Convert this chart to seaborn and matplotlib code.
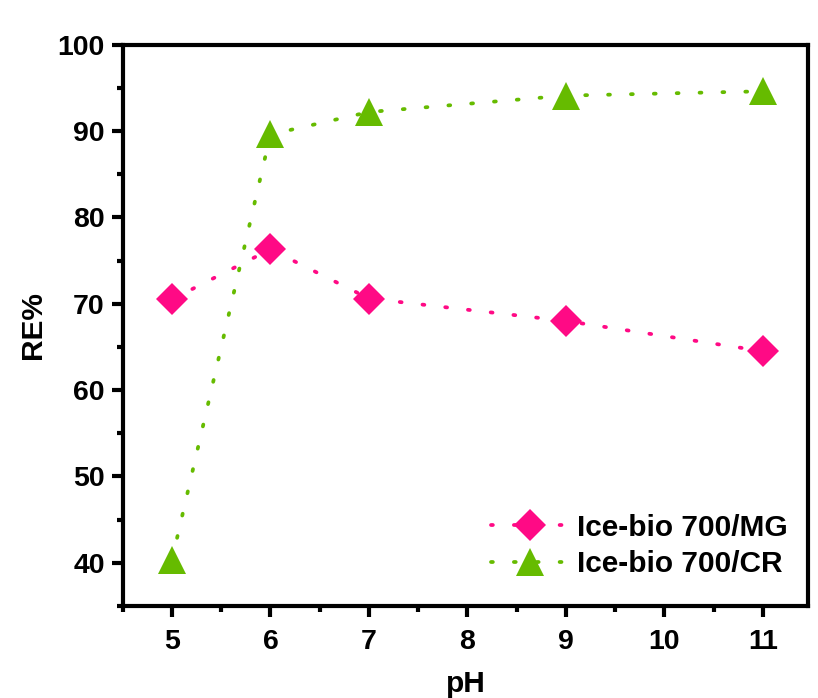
import matplotlib
matplotlib.use("Agg")
import matplotlib.pyplot as plt
import seaborn as sns
from matplotlib.ticker import MultipleLocator

ph_mg = [5, 6, 7, 9, 11]
re_mg = [70.5, 76.3, 70.6, 68.0, 64.5]
ph_cr = [5, 6, 7, 9, 11]
re_cr = [40.3, 89.6, 92.2, 94.1, 94.6]
label_mg = "Ice-bio 700/MG"
label_cr = "Ice-bio 700/CR"
x_ticks = [5, 6, 7, 8, 9, 10, 11]
y_ticks = [40, 50, 60, 70, 80, 90, 100]

sns.set_theme(style="ticks")
plt.rcParams['font.family'] = ['Liberation Sans', 'DejaVu Sans']
plt.rcParams['font.weight'] = 'bold'
for k in ['text.color', 'axes.labelcolor', 'xtick.color', 'ytick.color', 'axes.edgecolor']:
    plt.rcParams[k] = 'black'

fig = plt.figure(figsize=(8.18, 6.98), dpi=100)
ax = fig.add_axes([0.150, 0.132, 0.838, 0.804])

pink = "#FF0A85"
green = "#66BB00"
dots = (0, (0.5, 5.6))

sns.lineplot(x=ph_mg, y=re_mg, ax=ax, color=pink, linestyle=dots, linewidth=2.7,
             dash_capstyle='round', marker='D', markersize=16, markeredgewidth=0,
             label=label_mg)
sns.lineplot(x=ph_cr, y=re_cr, ax=ax, color=green, linestyle=dots, linewidth=2.7,
             dash_capstyle='round', marker='^', markersize=20, markeredgewidth=0,
             label=label_cr)

ax.set_xlim(4.5, 11.46)
ax.set_ylim(35, 100)
ax.set_xticks(x_ticks)
ax.set_yticks(y_ticks)
ax.xaxis.set_minor_locator(MultipleLocator(0.5))
ax.yaxis.set_minor_locator(MultipleLocator(5))
ax.tick_params(which='major', direction='out', length=8, width=3, labelsize=20.5)
ax.tick_params(axis='x', which='major', pad=9)
ax.tick_params(axis='y', which='major', pad=5)
ax.tick_params(which='minor', direction='out', length=4.5, width=3)
for lab in ax.get_xticklabels() + ax.get_yticklabels():
    lab.set_fontweight('bold')
for s in ax.spines.values():
    s.set_visible(True)
    s.set_linewidth(3)
    s.set_color('black')

ax.set_xlabel("pH", fontsize=21.5, fontweight='bold')
ax.set_ylabel("RE%", fontsize=21.5, fontweight='bold')
ax.xaxis.set_label_coords(0.5, -0.115)
ax.yaxis.set_label_coords(-0.111, 0.5)

leg = ax.legend(loc='lower right', bbox_to_anchor=(1.0, 0.012), frameon=False,
                handlelength=2.6, handletextpad=0.25, borderaxespad=0.3,
                labelspacing=0.28, prop={'weight': 'bold', 'size': 21.5})

fig.savefig("out.png", dpi=100, facecolor='white')
